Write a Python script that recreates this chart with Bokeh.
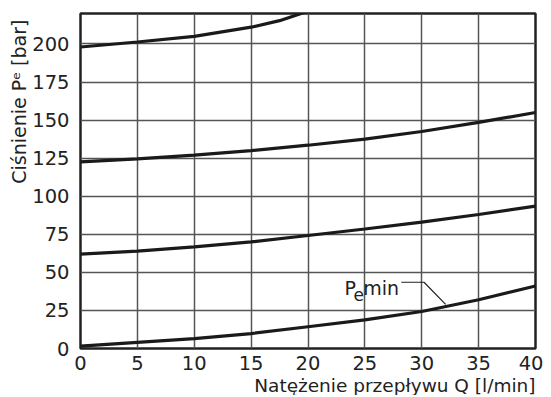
from bokeh.plotting import figure
from bokeh.models import Range1d, FixedTicker, Title
from bokeh.core.properties import value
from bokeh.embed import file_html
from bokeh.resources import INLINE

# data (flow Q [l/min] vs pressure Pe [bar])
q_top = [0, 5, 10, 15, 17.5, 19.4, 20.5]
p_top = [198, 201.3, 205, 211, 215.3, 220, 223]
q = [0, 5, 10, 15, 20, 25, 30, 35, 40]
p_2 = [122.5, 124.5, 127, 130, 133.5, 137.5, 142.5, 148.5, 155]
p_3 = [62, 64, 66.8, 70, 74.2, 78.5, 83, 88, 93.5]
p_min = [1.5, 4, 6.5, 9.8, 14.3, 18.8, 24.3, 32, 41]
x_ticks = [0, 5, 10, 15, 20, 25, 30, 35, 40]
y_ticks = [0, 25, 50, 75, 100, 125, 150, 175, 200]

FONT = "DejaVu Sans"

p = figure(width=543, height=395, output_backend="svg", toolbar_location=None,
           x_range=Range1d(0, 40), y_range=Range1d(0, 220),
           min_border_left=80, min_border_right=8, min_border_top=13, min_border_bottom=42)
p.background_fill_color = "white"
p.border_fill_color = "white"
p.outline_line_color = "#222222"
p.outline_line_width = 2.5

for ax in (p.xaxis[0], p.yaxis[0]):
    ax.axis_line_color = None
    ax.major_tick_line_color = None
    ax.minor_tick_line_color = None
    ax.major_label_text_font = FONT
    ax.major_label_text_font_size = "19.5px"
    ax.major_label_text_color = "#222222"
p.xaxis.ticker = FixedTicker(ticks=x_ticks)
p.yaxis.ticker = FixedTicker(ticks=y_ticks)
p.xaxis.major_label_standoff = 1
p.yaxis.major_label_standoff = 5

p.xgrid.ticker = FixedTicker(ticks=x_ticks)
p.ygrid.ticker = FixedTicker(ticks=y_ticks)
for g in (p.xgrid[0], p.ygrid[0]):
    g.grid_line_color = "#555555"
    g.grid_line_width = 1.5

for xs, ys in ((q_top, p_top), (q, p_2), (q, p_3), (q, p_min)):
    p.line(xs, ys, line_color="#1a1a1a", line_width=3.2)

# P_e min label with leader
p.text(x=[23.2], y=[39.5], text=["P"], text_font=value(FONT), text_font_size="19px",
       text_baseline="alphabetic", text_color="#222222")
p.text(x=[24.0], y=[35.3], text=["e"], text_font=value(FONT), text_font_size="17px",
       text_baseline="alphabetic", text_color="#222222")
p.text(x=[24.85], y=[39.5], text=["min"], text_font=value(FONT), text_font_size="19px",
       text_baseline="alphabetic", text_color="#222222")
p.line([28.2, 30.2, 32.1], [43.5, 43.5, 29.0], line_color="#222222", line_width=1.2)

p.add_layout(Title(text="Natężenie przepływu Q [l/min]", align="right",
                   text_font=FONT, text_font_size="18.5px", text_font_style="normal",
                   text_color="#222222", standoff=0, offset=0), "below")
p.add_layout(Title(text="Ciśnienie Pᵉ  [bar]", align="right",
                   text_font=FONT, text_font_size="19px", text_font_style="normal",
                   text_color="#222222", standoff=0, offset=0), "left")

open("out.html", "w").write(file_html(p, INLINE))
